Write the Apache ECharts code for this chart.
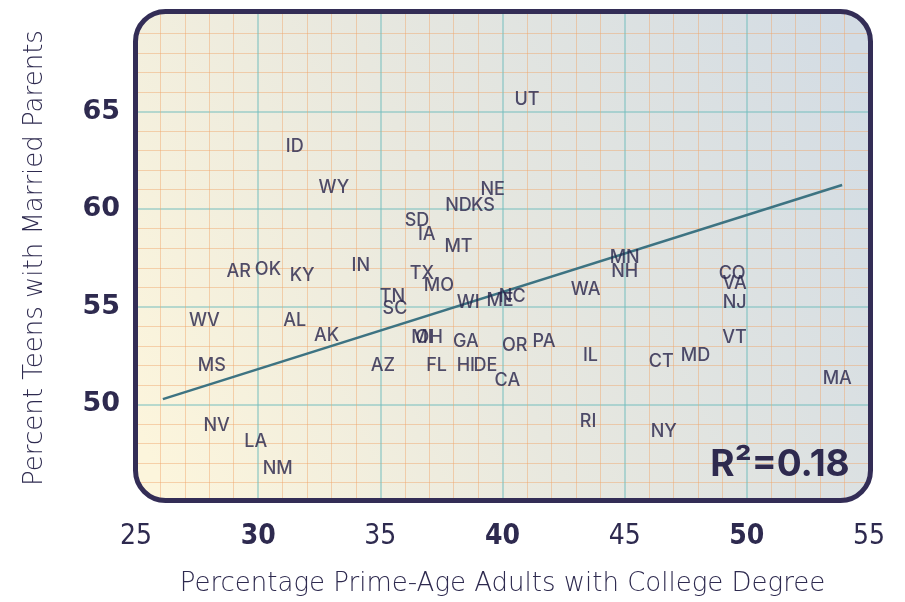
<!DOCTYPE html>
<html>
<head>
<meta charset="utf-8">
<script src="https://cdn.jsdelivr.net/npm/echarts@6/dist/echarts.min.js"></script>
<style>html,body{margin:0;padding:0;background:#fff;}#c{width:905px;height:602px;}</style>
</head>
<body>
<div id="c"></div>
<script>
const states = ['UT','ID','WY','SD','IA','MT','NE','ND','KS','MN','NH','CO','VA','NJ','VT','MD','CT','MA','NY','RI','IL','WA','ME','NC','WI','MO','TX','IN','KY','AR','OK','TN','SC','WV','AL','AK','MS','AZ','NV','LA','NM','MI','OH','GA','FL','HI','DE','CA','OR','PA'];
const collegePct = [41.0,31.5,33.1,36.5,36.9,38.2,39.6,38.2,39.2,45.0,45.0,49.4,49.5,49.5,49.5,47.9,46.5,53.7,46.6,43.5,43.6,43.4,39.9,40.4,38.6,37.4,36.7,34.2,31.8,29.2,30.4,35.5,35.6,27.8,31.5,32.8,28.1,35.1,28.3,29.9,30.8,36.7,37.0,38.5,37.3,38.5,39.3,40.2,40.5,41.7];
const marriedPct = [65.6,63.2,61.1,59.4,58.7,58.1,61.0,60.2,60.2,57.5,56.8,56.7,56.2,55.2,53.4,52.5,52.2,51.3,48.6,49.1,52.5,55.9,55.3,55.5,55.2,56.1,56.7,57.1,56.6,56.8,56.9,55.5,54.9,54.3,54.3,53.5,52.0,52.0,48.9,48.1,46.7,53.4,53.4,53.2,52.0,52.0,52.0,51.2,53.0,53.2];
const trendX = [26.1, 53.9];
const trendY = [50.27, 61.24];
const xTicks = [25, 30, 35, 40, 45, 50, 55];
const yTicks = [50, 55, 60, 65];
const rSquared = '0.18';

const ink = '#2e2a4f';
const SANS = '"DejaVu Sans", Verdana, sans-serif';
const INTER = 'Inter, "DejaVu Sans", sans-serif';
const COND = '"DejaVu Sans Condensed", "Liberation Sans Narrow", Roboto, sans-serif';
const chart = echarts.init(document.getElementById('c'), null, {renderer: 'canvas'});

// plot box geometry (layout only)
const G = {left: 136, top: 14, width: 733, height: 490};
const B = {x: 135.5, y: 11.5, w: 735, h: 489, r: 30};

// white mask outside a rounded corner; (cx,cy) = corner point, (sx,sy) = inward direction
function cornerMask(cx, cy, sx, sy) {
  const r = B.r, e = 10;
  const ccx = cx + sx * r, ccy = cy + sy * r;
  const p = [];
  p.push([cx - sx * e, cy - sy * e]);
  p.push([ccx, cy - sy * e]);
  for (let k = 0; k <= 24; k++) {
    const t = (Math.PI / 2) * k / 24;
    p.push([ccx - sx * r * Math.sin(t), ccy - sy * r * Math.cos(t)]);
  }
  p.push([cx - sx * e, ccy]);
  return {type: 'polygon', z: 99, shape: {points: p}, style: {fill: '#ffffff'}, silent: true};
}

const pts = states.map((s, i) => ({name: s, value: [collegePct[i], marriedPct[i]]}));
const trend = trendX.map((x, i) => [x, trendY[i]]);

const majorLine = {show: true, showMinLine: false, showMaxLine: false, lineStyle: {color: 'rgba(115,190,190,0.5)', width: 2}};
const minorLine = {show: true, lineStyle: {color: 'rgba(240,165,105,0.45)', width: 1}};

const option = {
  animation: false,
  grid: {left: G.left, top: G.top, width: G.width, height: G.height, containLabel: false},
  xAxis: {
    type: 'value', min: 25, max: 55, interval: 5,
    name: 'Percentage Prime-Age Adults with College Degree',
    nameLocation: 'middle', nameGap: 69,
    nameTextStyle: {color: ink, fontSize: 26, fontFamily: SANS, fontWeight: 200},
    axisLine: {show: false}, axisTick: {show: false},
    axisLabel: {
      margin: 21,
      formatter: v => xTicks.indexOf(v) < 0 ? '' : (v % 10 === 0 ? '{b|' + v + '}' : '{n|' + v + '}'),
      rich: {
        b: {fontFamily: COND, fontWeight: 'bold', fontSize: 28, color: ink},
        n: {fontFamily: COND, fontWeight: 200, fontSize: 28, color: ink}
      }
    },
    splitLine: majorLine,
    minorTick: {show: false, splitNumber: 5},
    minorSplitLine: minorLine
  },
  yAxis: {
    type: 'value', min: 45, max: 70, interval: 5,
    name: 'Percent Teens with Married Parents',
    nameLocation: 'middle', nameGap: 88,
    nameTextStyle: {color: ink, fontSize: 26, fontFamily: SANS, fontWeight: 200},
    axisLine: {show: false}, axisTick: {show: false},
    axisLabel: {
      margin: 16,
      color: ink, fontFamily: SANS, fontWeight: 'bold', fontSize: 27,
      padding: [0, 0, 6, 0],
      formatter: v => yTicks.indexOf(v) < 0 ? '' : String(v)
    },
    splitLine: majorLine,
    minorTick: {show: false, splitNumber: 5},
    minorSplitLine: minorLine
  },
  graphic: [
    {type: 'rect', z: -10, silent: true, shape: {x: B.x, y: B.y, width: B.w, height: B.h},
     style: {fill: new echarts.graphic.LinearGradient(0, 0.85, 1, 0.15, [
       {offset: 0, color: '#fcf5dc'}, {offset: 0.45, color: '#e8e8df'}, {offset: 1, color: '#d3dce4'}])}},
    {type: 'rect', z: 99, silent: true, shape: {x: 120, y: B.y + B.h, width: 770, height: 10}, style: {fill: '#ffffff'}},
    cornerMask(B.x, B.y, 1, 1),
    cornerMask(B.x + B.w, B.y, -1, 1),
    cornerMask(B.x, B.y + B.h, 1, -1),
    cornerMask(B.x + B.w, B.y + B.h, -1, -1),
    {type: 'rect', z: 100, silent: true, shape: {x: B.x, y: B.y, width: B.w, height: B.h, r: B.r},
     style: {fill: 'none', stroke: '#332d56', lineWidth: 5}},
    {type: 'text', z: 101, x: 780, y: 465,
     style: {text: 'R²=' + rSquared, fill: ink, font: 'bold 37px ' + INTER, textAlign: 'center', textVerticalAlign: 'middle'}}
  ],
  series: [
    {
      type: 'line', data: trend, symbol: 'none', silent: true, z: 3,
      lineStyle: {color: '#3d7382', width: 2.5}
    },
    {
      type: 'scatter', data: pts, symbolSize: 1, z: 4,
      itemStyle: {color: 'rgba(0,0,0,0)'},
      label: {show: true, position: 'inside', formatter: '{b}', color: '#27234a', fontSize: 18, fontFamily: INTER, fontWeight: 500}
    }
  ]
};
chart.setOption(option);
</script>
</body>
</html>
